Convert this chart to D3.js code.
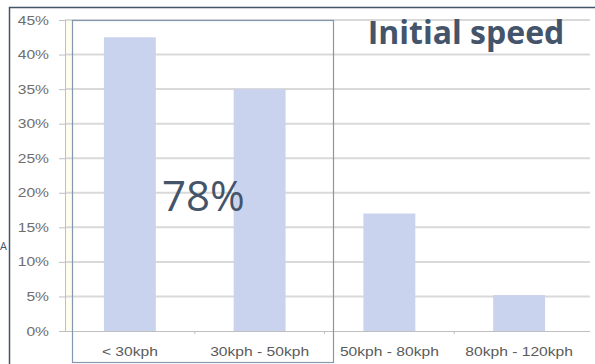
<!DOCTYPE html>
<html><head><meta charset="utf-8">
<script src="https://cdn.jsdelivr.net/npm/d3@7"></script>
<style>html,body{margin:0;padding:0;background:#fff;overflow:hidden}</style>
</head><body>
<svg id="c" width="595" height="364"></svg>
<script>
const categories = ["< 30kph", "30kph - 50kph", "50kph - 80kph", "80kph - 120kph"];
const shares = [0.425, 0.35, 0.17, 0.052];
const yTicks = [0, 0.05, 0.10, 0.15, 0.20, 0.25, 0.30, 0.35, 0.40, 0.45];
const title = "Initial speed";
const groupLabel = "78%";

const svg = d3.select("#c");
const x = d3.scaleBand().domain(categories).range([65, 584]).paddingInner(0.6).paddingOuter(0.3);
const y = d3.scaleLinear().domain([0, 0.45]).range([331, 20]);

// outer frame
svg.append("path").attr("d","M9.5,364 L9.5,7.5 L595,7.5").attr("fill","none").attr("stroke","#44546a").attr("stroke-width",1.5);
// faint cream strip
svg.append("rect").attr("x",66).attr("y",20).attr("width",6).attr("height",311).attr("fill","#fffcf0");

// gridlines
svg.append("g").selectAll("line").data(yTicks.slice(1)).join("line")
  .attr("x1",65).attr("x2",590).attr("y1",d=>y(d)).attr("y2",d=>y(d))
  .attr("stroke","#d9d9d9").attr("stroke-width",2);

// bars
svg.append("g").selectAll("rect").data(categories).join("rect")
  .attr("x",d=>x(d)).attr("width",x.bandwidth())
  .attr("y",(d,i)=>y(shares[i])).attr("height",(d,i)=>y(0)-y(shares[i]))
  .attr("fill","#c9d3ee");

function stretch(sel, k){
  sel.each(function(){ const l=this.getComputedTextLength(); this.setAttribute("textLength", l*k); this.setAttribute("lengthAdjust","spacingAndGlyphs"); });
}

// y axis
const ya = svg.append("g").attr("transform","translate(65,0)")
  .call(d3.axisLeft(y).tickValues(yTicks).tickFormat(d3.format(".0%")).tickSize(6).tickPadding(10));
ya.select(".domain").attr("stroke","#bfbfbf");
ya.selectAll(".tick line").attr("stroke","#bfbfbf");
ya.selectAll("text").attr("fill","#6e6e6e").style("font-family","Liberation Sans, Arial, sans-serif").style("font-size","12.5px");
stretch(ya.selectAll("text"), 1.25);

// x axis
const xa = svg.append("g").attr("transform","translate(0,331)")
  .call(d3.axisBottom(x).tickSize(0).tickPadding(16));
xa.select(".domain").attr("stroke","#bfbfbf").attr("d","M60,0.5H590");
xa.selectAll("text").attr("fill","#5a5a5a").style("font-family","Liberation Sans, Arial, sans-serif").style("font-size","13px");
stretch(xa.selectAll("text"), 1.2);
// boundary ticks
const bounds = categories.slice(1).map(c=>x(c)-x.step()*x.paddingInner()/2);
xa.append("g").selectAll("line").data(bounds).join("line")
  .attr("x1",d=>d).attr("x2",d=>d).attr("y1",0).attr("y2",3).attr("stroke","#bfbfbf");

// highlight box around first two categories
svg.append("rect").attr("x",72.5).attr("y",20.5).attr("width",261).attr("height",342)
  .attr("fill","none").attr("stroke","#8497b0").attr("stroke-width",1.2);

// title
svg.append("text").attr("x",466).attr("y",44).attr("text-anchor","middle")
  .attr("fill","#44546a").style("font-family","Open Sans, sans-serif").style("font-weight","bold").style("font-size","32px")
  .text(title);

// group label
svg.append("text").attr("x",162).attr("y",211)
  .attr("fill","#44546a").style("font-family","Open Sans, sans-serif").style("font-size","42px")
  .text(groupLabel);

// letter at left edge
svg.append("text").attr("x",0).attr("y",250).attr("fill","#44546a")
  .style("font-family","Open Sans, sans-serif").style("font-size","11px").text("A");
</script>
</body></html>
